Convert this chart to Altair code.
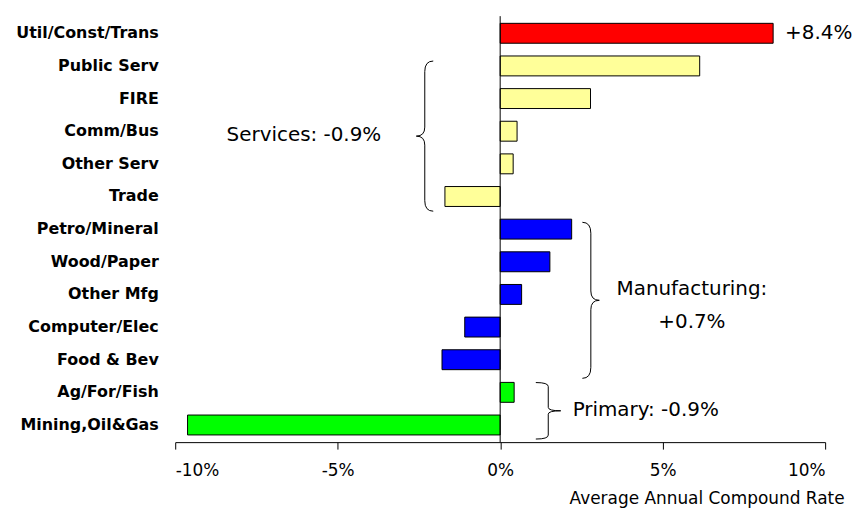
import altair as alt
import pandas as pd

# ---- data ----
categories = ["Util/Const/Trans", "Public Serv", "FIRE", "Comm/Bus", "Other Serv", "Trade",
              "Petro/Mineral", "Wood/Paper", "Other Mfg", "Computer/Elec", "Food & Bev",
              "Ag/For/Fish", "Mining,Oil&Gas"]
values = [8.4, 6.14, 2.78, 0.52, 0.40, -1.70, 2.20, 1.53, 0.66, -1.09, -1.79, 0.43, -9.62]
groups = ["Util", "Services", "Services", "Services", "Services", "Services",
          "Manufacturing", "Manufacturing", "Manufacturing", "Manufacturing", "Manufacturing",
          "Primary", "Primary"]
group_names = ["Util", "Services", "Manufacturing", "Primary"]
group_colors = ["#FF0000", "#FFFF99", "#0000FF", "#00FF00"]
tick_values = [-10, -5, 0, 5, 10]

# annotations (x in %, y in row units: 0 = first category centre)
brace_x = [-2.32, 2.79, 1.48]
brace_top = [0.85, 5.79, 10.70]
brace_bottom = [5.45, 10.57, 12.43]
brace_width_px = [17, 17, 25]
brace_dir = ["left", "right", "right"]

top_label = ["+8.4%"]
ann_left_text = ["Primary: -0.9%"]
ann_left_x = [2.23]
ann_left_y = [11.55]
ann_right_text = ["Services: -0.9%"]
ann_right_x = [-3.66]
ann_right_y = [3.12]
ann_center_text = ["Manufacturing:", "+0.7%"]
ann_center_x = [5.9, 5.9]
ann_center_y = [7.83, 8.86]

# ---- layout ----
W, H = 653, 428
N = len(categories)
P_IN, P_OUT = 0.39, 0.22
step = H / (N - P_IN + 2 * P_OUT)
first_centre = P_OUT * step + (1 - P_IN) * step / 2
row_domain = [(0 - first_centre) / step, (H - first_centre) / step]
row_scale = alt.Scale(domain=row_domain, reverse=True, nice=False, zero=False)
FONT = "DejaVu Sans"

df = pd.DataFrame({"name": categories, "value": values, "group": groups})

xscale = alt.Scale(domain=[-10, 10], nice=False, zero=False)

bars = alt.Chart(df).mark_bar(stroke="black", strokeWidth=1).encode(
    x=alt.X("value:Q", scale=xscale,
            axis=alt.Axis(values=tick_values, labelExpr="datum.value + '%'", grid=False,
                          tickSize=7, tickColor="black", domainColor="black",
                          labelFont=FONT, labelFontSize=17, labelColor="black",
                          labelPadding=14,
                          title="Average Annual Compound Rate", titleFont=FONT,
                          titleFontSize=17, titleFontWeight="normal", titleColor="black",
                          titleAlign="right", titleAnchor="end", titleX=672, titleY=62,
                          titleBaseline="alphabetic")),
    y=alt.Y("name:N", sort=categories,
            scale=alt.Scale(paddingInner=P_IN, paddingOuter=P_OUT),
            axis=alt.Axis(title=None, domain=False, ticks=False, labelPadding=17,
                          labelFont=FONT, labelFontSize=16, labelFontWeight="bold",
                          labelColor="black")),
    color=alt.Color("group:N", scale=alt.Scale(domain=group_names, range=group_colors),
                    legend=None),
)

zero = alt.Chart(pd.DataFrame({"x": [0]})).mark_rule(color="black", strokeWidth=1).encode(
    x=alt.X("x:Q", scale=xscale))

top_df = pd.DataFrame({"text": top_label, "x": [values[0]], "y": [0]})
top_txt = alt.Chart(top_df).mark_text(align="left", baseline="middle", font=FONT,
                                      fontSize=20, color="black", dx=12).encode(
    x=alt.X("x:Q", scale=xscale), y=alt.Y("y:Q", scale=row_scale, axis=None), text="text:N")

left_df = pd.DataFrame({"text": ann_left_text, "x": ann_left_x, "y": ann_left_y})
left_txt = alt.Chart(left_df).mark_text(align="left", baseline="middle", font=FONT,
                                        fontSize=20, color="black").encode(
    x=alt.X("x:Q", scale=xscale), y=alt.Y("y:Q", scale=row_scale, axis=None), text="text:N")

right_df = pd.DataFrame({"text": ann_right_text, "x": ann_right_x, "y": ann_right_y})
right_txt = alt.Chart(right_df).mark_text(align="right", baseline="middle", font=FONT,
                                          fontSize=20, color="black").encode(
    x=alt.X("x:Q", scale=xscale), y=alt.Y("y:Q", scale=row_scale, axis=None), text="text:N")

center_df = pd.DataFrame({"text": ann_center_text, "x": ann_center_x, "y": ann_center_y})
center_txt = alt.Chart(center_df).mark_text(align="center", baseline="middle", font=FONT,
                                            fontSize=20, color="black").encode(
    x=alt.X("x:Q", scale=xscale), y=alt.Y("y:Q", scale=row_scale, axis=None), text="text:N")


def brace_path(a, direction):
    s = 1 if direction == "right" else -1
    return (f"M {-s*a:.4f},-1 Q 0,-1 0,-0.86 L 0,-0.12 Q 0,0 {s*a:.4f},0 "
            f"Q 0,0 0,0.12 L 0,0.86 Q 0,1 {-s*a:.4f},1")


b_rows = []
for bx, bt, bb, bw, bd in zip(brace_x, brace_top, brace_bottom, brace_width_px, brace_dir):
    h_px = (bb - bt) * step
    b_rows.append({"x": bx, "y": (bt + bb) / 2, "size": h_px ** 2,
                   "shape": brace_path(bw / h_px, bd)})
brace_df = pd.DataFrame(b_rows)
braces = alt.Chart(brace_df).mark_point(filled=False, stroke="black", strokeWidth=1,
                                        opacity=1).encode(
    x=alt.X("x:Q", scale=xscale), y=alt.Y("y:Q", scale=row_scale, axis=None),
    size=alt.Size("size:Q", scale=None), shape=alt.Shape("shape:N", scale=None))

chart = alt.layer(bars, zero, top_txt, left_txt, right_txt, center_txt, braces).resolve_scale(
    y="independent"
).properties(
    width=W, height=H,
    autosize=alt.AutoSizeParams(type="none"),
    padding={"left": 168, "top": 7, "right": 28, "bottom": 67},
).configure_view(stroke=None)

chart.save("out.html", embed_options={"renderer": "svg", "actions": False})
